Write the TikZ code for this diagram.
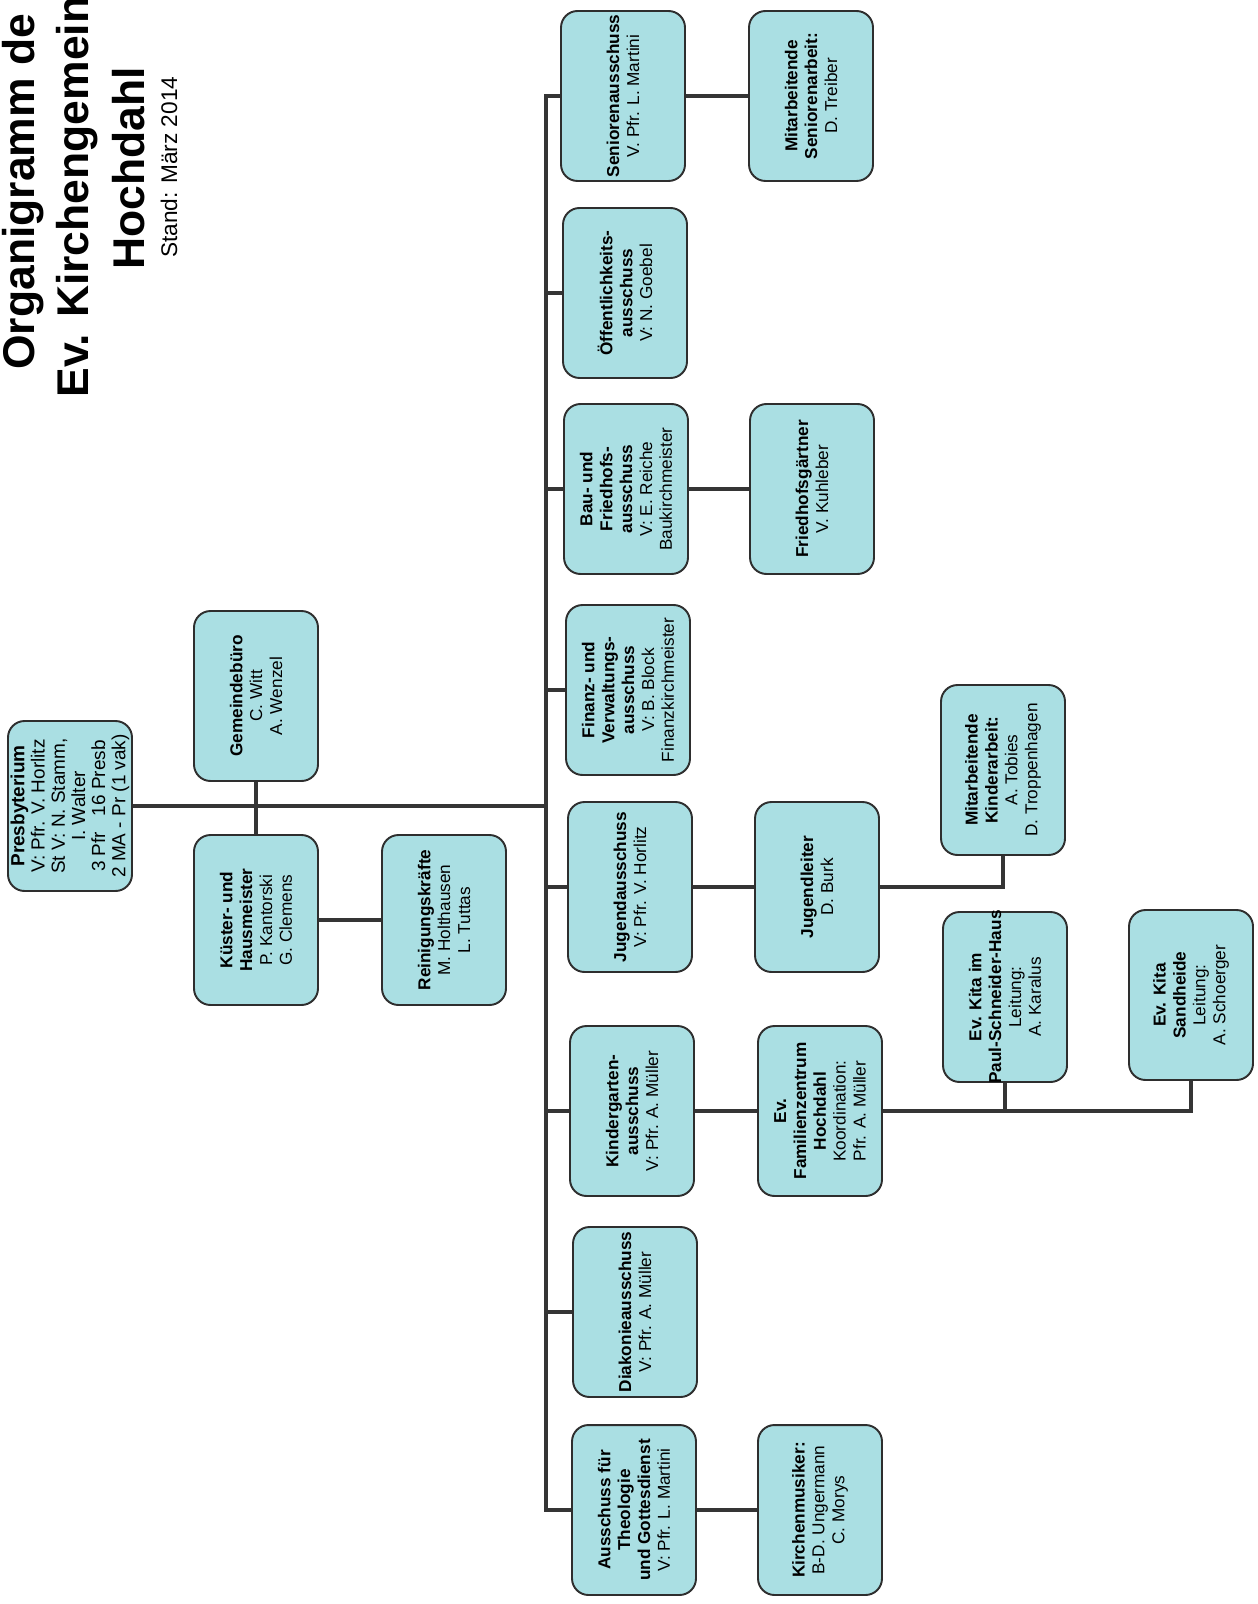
\documentclass[tikz,border=0pt]{standalone}
\usepackage{fontspec}
\setmainfont{Liberation Sans}
\usetikzlibrary{calc}
\definecolor{boxfill}{HTML}{AADFE3}
\definecolor{boxline}{HTML}{2E2E2E}
\definecolor{conline}{HTML}{353535}

\begin{document}
\begin{tikzpicture}[x=0.02cm, y=-0.02cm,
	box/.style={draw=boxline, line width=1.1pt, fill=boxfill, rounded corners=0.33cm, rotate=90,
		minimum width=3.4cm, minimum height=2.48cm, inner sep=1pt, align=center,
		font=\fontsize{9.8}{11.3}\selectfont},
	conn/.style={draw=conline, line width=2.8pt},
	headline/.style={rotate=90, anchor=west, inner sep=0pt, font=\fontsize{25.3}{30}\selectfont\bfseries}]
		
		\useasboundingbox (0,0) rectangle (1257,1604);
		\fill[white] (0,0) rectangle (1257,1604);
		
		% title, cut at the upper edge
		\node[headline] (t1) at (23,370) {Organigramm de};
		\node[headline] (t2) at (77,398) {Ev. Kirchengemein};
		\node[headline] (t3) at (129,270) {Hochdahl};
		\node[headline, font=\fontsize{12.9}{15}\selectfont] (t4) at (169,258) {Stand: März 2014};
		
		% left part
		\node[box, font=\fontsize{10.8}{11.5}\selectfont] (pres) at (70,806) {\textbf{Presbyterium}\\V: Pfr. V. Horlitz\\St V: N. Stamm,\\I. Walter\\3 Pfr\ \ \ 16 Presb\\2 MA - Pr (1 vak)};
		\node[box] (gem) at (256,696) {\textbf{Gemeindebüro}\\C. Witt\\A. Wenzel};
		\node[box] (kue) at (256,920) {\textbf{Küster- und}\\\textbf{Hausmeister}\\P. Kantorski\\G. Clemens};
		\node[box] (rein) at (444,920) {\textbf{Reinigungskräfte}\\M. Holthausen\\L. Tuttas};
		
		% committees
		\coordinate (tr) at (546,0);
		\node[box] (sen) at (623,96) {\textbf{Seniorenausschuss}\\V. Pfr. L. Martini};
		\node[box] (oef) at (625,293) {\textbf{Öffentlichkeits-}\\\textbf{ausschuss}\\V: N. Goebel};
		\node[box] (bau) at (626,489) {\textbf{Bau- und}\\\textbf{Friedhofs-}\\\textbf{ausschuss}\\V: E. Reiche\\Baukirchmeister};
		\node[box] (fin) at (628,690) {\textbf{Finanz- und}\\\textbf{Verwaltungs-}\\\textbf{ausschuss}\\V: B. Block\\Finanzkirchmeister};
		\node[box] (jug) at (630,887) {\textbf{Jugendausschuss}\\V: Pfr. V. Horlitz};
		\node[box] (kig) at (632,1111) {\textbf{Kindergarten-}\\\textbf{ausschuss}\\V: Pfr. A. Müller};
		\node[box] (dia) at (635,1312) {\textbf{Diakonieausschuss}\\V: Pfr. A. Müller};
		\node[box] (aus) at (634,1510) {\textbf{Ausschuss für}\\\textbf{Theologie}\\\textbf{und Gottesdienst}\\V: Pfr. L. Martini};
		
		% second column
		\node[box] (masen) at (811,96) {\textbf{Mitarbeitende}\\\textbf{Seniorenarbeit:}\\D. Treiber};
		\node[box] (fried) at (812,489) {\textbf{Friedhofsgärtner}\\V. Kuhleber};
		\node[box] (jl) at (817,887) {\textbf{Jugendleiter}\\D. Burk};
		\node[box] (fam) at (820,1111) {\textbf{Ev.}\\\textbf{Familienzentrum}\\\textbf{Hochdahl}\\Koordination:\\Pfr. A. Müller};
		\node[box] (kir) at (820,1510) {\textbf{Kirchenmusiker:}\\B-D. Ungermann\\C. Morys};
		
		% third column
		\node[box] (mak) at (1003,770) {\textbf{Mitarbeitende}\\\textbf{Kinderarbeit:}\\A. Tobies\\D. Troppenhagen};
		\node[box] (kita1) at (1005,997) {\textbf{Ev. Kita im}\\\textbf{\makebox[3.3cm]{Paul-Schneider-Haus}}\\Leitung:\\A. Karalus};
		\node[box] (kita2) at (1191,995) {\textbf{Ev. Kita}\\\textbf{Sandheide}\\Leitung:\\A. Schoerger};
		
		% connectors
		\draw[conn] (pres.south) -- (pres.south -| tr);
		\draw[conn] (gem.west) -- (kue.east);
		\draw[conn] (kue.south) -- (rein.north);
		\draw[conn] (sen.north) -- (sen.north -| tr) -- (aus.north -| tr) -- (aus.north);
		\foreach \n in {oef,bau,fin,jug,kig,dia}
		\draw[conn] (\n.north) -- (\n.north -| tr);
		\draw[conn] (sen.south) -- (masen.north);
		\draw[conn] (bau.south) -- (fried.north);
		\draw[conn] (jug.south) -- (jl.north);
		\draw[conn] (kig.south) -- (fam.north);
		\draw[conn] (aus.south) -- (kir.north);
		\draw[conn] (jl.south) -| (mak.west);
		\draw[conn] (fam.south) -| (kita2.west);
		\draw[conn] (fam.south -| kita1.west) -- (kita1.west);
		
\end{tikzpicture}
\end{document}
